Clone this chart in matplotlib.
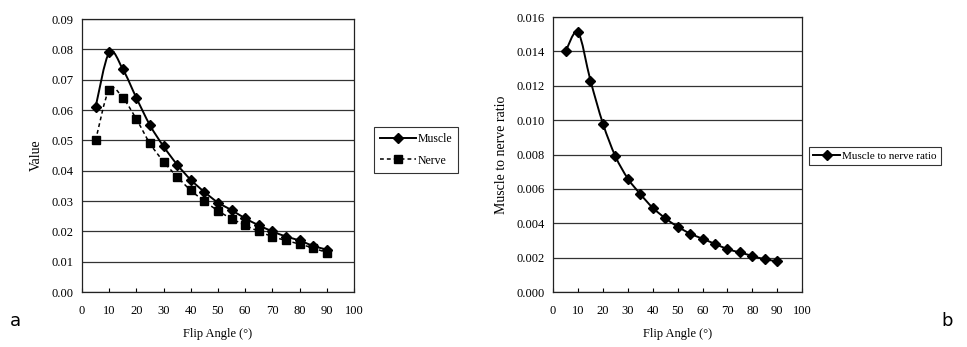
import numpy as np
import matplotlib
matplotlib.use("Agg")
import matplotlib.pyplot as plt
from matplotlib.path import Path
from matplotlib.patches import PathPatch
from matplotlib.lines import Line2D

# Data
flip_angle = [5, 10, 15, 20, 25, 30, 35, 40, 45, 50, 55, 60, 65, 70, 75, 80, 85, 90]
muscle = [0.061, 0.079, 0.0735, 0.064, 0.055, 0.048, 0.042, 0.037, 0.033, 0.0295,
          0.027, 0.0243, 0.022, 0.020, 0.0183, 0.017, 0.0152, 0.014]
nerve = [0.050, 0.0667, 0.064, 0.057, 0.049, 0.043, 0.038, 0.0335, 0.030, 0.0268,
         0.0242, 0.0220, 0.020, 0.0183, 0.017, 0.0158, 0.0145, 0.013]
ratio = [0.0140, 0.0151, 0.0123, 0.0098, 0.0079, 0.0066, 0.0057, 0.0049, 0.0043, 0.0038,
         0.0034, 0.0031, 0.0028, 0.0025, 0.0023, 0.0021, 0.0019, 0.0018]

plt.rcParams['font.family'] = ['Liberation Serif', 'DejaVu Serif']
plt.rcParams['font.size'] = 9


# Excel-style smoothed line: cubic Bezier segments through the data points
def smooth_patch(ax, x, y, **kw):
    x = np.asarray(x, float)
    y = np.asarray(y, float)
    verts = [(x[0], y[0])]
    codes = [Path.MOVETO]
    n = len(x)
    for i in range(n - 1):
        p0 = (x[i - 1], y[i - 1]) if i > 0 else (x[i], y[i])
        p1 = (x[i], y[i])
        p2 = (x[i + 1], y[i + 1])
        p3 = (x[i + 2], y[i + 2]) if i + 2 < n else p2
        c1 = (p1[0] + (p2[0] - p0[0]) / 6, p1[1] + (p2[1] - p0[1]) / 6)
        c2 = (p2[0] - (p3[0] - p1[0]) / 6, p2[1] - (p3[1] - p1[1]) / 6)
        verts += [c1, c2, p2]
        codes += [Path.CURVE4] * 3
    ax.add_patch(PathPatch(Path(verts, codes), fill=False, **kw))


def style_axes(ax, ymax, ystep, fmt):
    ax.set_xlim(0, 100)
    ax.set_ylim(0, ymax)
    ax.set_xticks(range(0, 101, 10))
    yt = np.arange(0, ymax + ystep / 2, ystep)
    ax.set_yticks(yt)
    ax.set_yticklabels([fmt.format(v) for v in yt])
    ax.grid(axis='y', color='#333333', lw=0.9)
    ax.set_axisbelow(True)
    for s in ax.spines.values():
        s.set_color('#222222')
        s.set_linewidth(0.9)
    ax.tick_params(axis='x', direction='in', length=3, pad=9)
    ax.tick_params(axis='y', length=0, pad=6)


fig = plt.figure(figsize=(9.67, 3.47), dpi=100)

# Panel a
ax1 = fig.add_axes([0.0848, 0.1585, 0.2812, 0.7865])
style_axes(ax1, 0.09, 0.01, "{:.2f}")
smooth_patch(ax1, flip_angle, muscle, color='black', lw=1.4, zorder=3)
smooth_patch(ax1, flip_angle, nerve, color='black', lw=1.1, ls=(0, (2.5, 2)), zorder=3)
ax1.plot(flip_angle, muscle, ls='none', marker='D', ms=5.5, color='black', zorder=4)
ax1.plot(flip_angle, nerve, ls='none', marker='s', ms=6, color='black', zorder=4)
ax1.set_xlabel("Flip Angle (°)", labelpad=8)
ax1.set_ylabel("Value", labelpad=6, fontsize=10)

h1 = [Line2D([], [], color='black', lw=1.4, marker='D', ms=5),
      Line2D([], [], color='black', lw=1.1, ls=(0, (2.5, 2)), marker='s', ms=5.5)]
leg1 = fig.legend(h1, ["Muscle", "Nerve"], loc='center left',
                  bbox_to_anchor=(0.387, 0.568), frameon=True, fancybox=False,
                  edgecolor='black', handlelength=3.0, handletextpad=0.2,
                  borderpad=0.5, borderaxespad=0, labelspacing=0.8, fontsize=8.5)
leg1.get_frame().set_linewidth(0.8)

# Panel b
ax2 = fig.add_axes([0.572, 0.1585, 0.2575, 0.7925])
style_axes(ax2, 0.016, 0.002, "{:.3f}")
smooth_patch(ax2, flip_angle, ratio, color='black', lw=1.4, zorder=3)
ax2.plot(flip_angle, ratio, ls='none', marker='D', ms=5.5, color='black', zorder=4)
ax2.set_xlabel("Flip Angle (°)", labelpad=8)
ax2.set_ylabel("Muscle to nerve ratio", labelpad=6, fontsize=10)

h2 = [Line2D([], [], color='black', lw=1.4, marker='D', ms=5)]
leg2 = fig.legend(h2, ["Muscle to nerve ratio"], loc='center left',
                  bbox_to_anchor=(0.837, 0.55), frameon=True, fancybox=False,
                  edgecolor='black', handlelength=2.4, handletextpad=0.2,
                  borderpad=0.35, borderaxespad=0, fontsize=8)
leg2.get_frame().set_linewidth(0.8)

# Panel letters
fig.text(0.010, 0.06, "a", fontsize=13, family='DejaVu Sans')
fig.text(0.985, 0.06, "b", fontsize=13, family='DejaVu Sans', ha='right')

fig.savefig("out.png", dpi=100, facecolor='white')
